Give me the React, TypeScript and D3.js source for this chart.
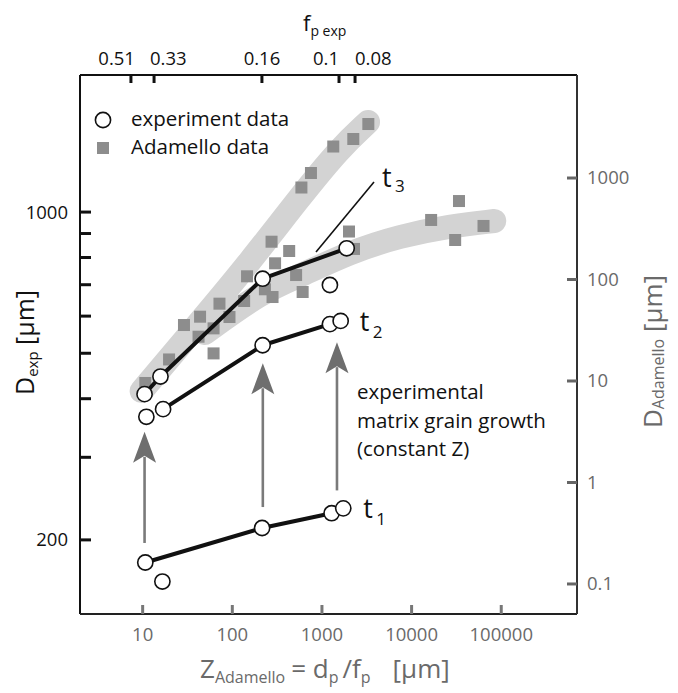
import React from 'react';
import * as d3 from 'd3';

const W = 678;
const H = 693;
const box = { left: 80, right: 577, top: 75, bottom: 614 };
const FONT = "'Open Sans', 'Noto Sans', sans-serif";

// Bottom axis: Z = d_p / f_p [µm]
const zTicks = [10, 100, 1000, 10000, 100000];
const zTickLabels = ['10', '100', '1000', '10000', '100000'];

// Left axis: D_exp [µm]
const dExpTicks = [200, 300, 400, 500, 600, 700, 800, 900, 1000];
const dExpLabeled = [200, 1000];

// Right axis: D_Adamello [µm]
const dAdaTicks = [0.1, 1, 10, 100, 1000];
const dAdaTickLabels = ['0.1', '1', '10', '100', '1000'];

// Top axis: particle fraction of the experiments, placed at their Z
const fpLabels = ['0.51', '0.33', '0.16', '0.1', '0.08'];
const fpAtZ = [7.4, 13.4, 214, 1550, 2340];
const fpAnchor = ['end', 'start', 'middle', 'end', 'start'];
const fpShift = [4, -4, 0, 0, 0];

// Experiment data (D_exp, µm) at three annealing times
const t1Z = [10.7, 16.6, 215, 1282, 1729];
const t1D = [179, 163, 212, 228, 233.5];
const t1Joined = [0, 2, 3, 4];

const t2Z = [11.0, 16.9, 218, 1227, 1617];
const t2D = [366, 380, 520, 577, 586];
const t2Joined = [1, 2, 3, 4];

const t3Z = [10.5, 15.8, 218, 1227, 1888];
const t3D = [409, 446, 721, 699, 837];
const t3Joined = [0, 1, 2, 4];

// Adamello natural samples (D_Adamello, µm)
const adaZ = [10.7, 19.7, 28.9, 43.7, 42.0, 61.8, 61.8, 71.9, 93.0, 135.5, 146, 231, 274, 300, 281, 431, 515, 609, 590, 754, 1337, 2237, 3292, 2003, 2278, 16520, 33780, 63420, 30620];
const adaD = [9.56, 16.3, 35.6, 43.0, 27.3, 33.0, 18.7, 57.8, 42.7, 61.4, 107.5, 80.1, 235.7, 144.4, 67.2, 190.9, 110.7, 75.3, 806, 1120, 2043, 2423, 3404, 297, 200, 386, 593, 337, 245];

// Trend bands through the Adamello data
const band1Z = [9.74, 43.4, 157, 568, 1589, 3266];
const band1D = [7.97, 38.1, 148.8, 650, 1975, 3561];
const band2Z = [49.3, 219, 568, 2055, 7437, 26930, 83540];
const band2D = [29.7, 77.0, 108.3, 186.6, 268.3, 336.6, 377];

// Growth arrows between t1 and t2 (D_exp)
const arrowZ = [10.5, 219, 1471];
const arrowFrom = [197, 235, 255];
const arrowTo = [340, 476, 528];

const x = d3.scaleLog().domain([2, 7e5]).range([box.left, box.right]);
const yL = d3.scaleLog().domain([139, 1960]).range([box.bottom, box.top]);
const yR = d3.scaleLog().domain([0.0506, 10350]).range([box.bottom, box.top]);

const bandLine = d3
  .line<[number, number]>()
  .x((d) => x(d[0]))
  .y((d) => yR(d[1]))
  .curve(d3.curveBasis);

const expLine = d3
  .line<[number, number]>()
  .x((d) => x(d[0]))
  .y((d) => yL(d[1]));

const series = [
  { z: t1Z, d: t1D, joined: t1Joined },
  { z: t2Z, d: t2D, joined: t2Joined },
  { z: t3Z, d: t3D, joined: t3Joined },
];

const GREY_TEXT = '#6a6a6a';

function Arrow({ z, from, to }: { z: number; from: number; to: number }) {
  const cx = x(z);
  const tip = yL(to);
  const base = yL(from);
  const head = `M${cx},${tip} L${cx + 11.5},${tip + 31} L${cx},${tip + 24} L${cx - 11.5},${tip + 31} Z`;
  return (
    <g>
      <line x1={cx} x2={cx} y1={base} y2={tip + 25} stroke="#7a7a7a" strokeWidth={2.6} />
      <path d={head} fill="#6e6e6e" />
    </g>
  );
}

export default function App() {
  const band1 = band1Z.map((z, i) => [z, band1D[i]] as [number, number]);
  const band2 = band2Z.map((z, i) => [z, band2D[i]] as [number, number]);

  return (
    <svg
      width={W}
      height={H}
      viewBox={`0 0 ${W} ${H}`}
      style={{ position: 'absolute', left: 0, top: 0, background: '#fff' }}
      fontFamily={FONT}
    >
      <rect width={W} height={H} fill="#fff" />

      {/* trend bands */}
      <path d={bandLine(band1) || ''} fill="none" stroke="#d3d3d3" strokeWidth={24} strokeLinecap="round" strokeLinejoin="round" />
      <path d={bandLine(band2) || ''} fill="none" stroke="#d3d3d3" strokeWidth={24} strokeLinecap="round" strokeLinejoin="round" />

      {/* Adamello squares */}
      {adaZ.map((z, i) => (
        <rect key={`a${i}`} x={x(z) - 6} y={yR(adaD[i]) - 6} width={12} height={12} fill="#8d8d8d" />
      ))}

      {/* growth arrows */}
      {arrowZ.map((z, i) => (
        <Arrow key={`ar${i}`} z={z} from={arrowFrom[i]} to={arrowTo[i]} />
      ))}

      {/* t3 leader */}
      <line x1={316} y1={252} x2={374} y2={182} stroke="#111" strokeWidth={1.6} />

      {/* experiment lines */}
      {series.map((s, k) => (
        <path
          key={`l${k}`}
          d={expLine(s.joined.map((i) => [s.z[i], s.d[i]] as [number, number])) || ''}
          fill="none"
          stroke="#111"
          strokeWidth={4}
          strokeLinejoin="round"
        />
      ))}
      {/* experiment circles */}
      {series.map((s, k) =>
        s.z.map((z, i) => (
          <circle key={`c${k}-${i}`} cx={x(z)} cy={yL(s.d[i])} r={7.6} fill="#fff" stroke="#111" strokeWidth={1.6} />
        ))
      )}

      {/* time labels */}
      <text x={382} y={187} fontSize={27} fill="#111">t</text>
      <text x={395} y={192} fontSize={17} fill="#111">3</text>
      <text x={x(t2Z[4]) + 19} y={yL(t2D[4]) + 10} fontSize={27} fill="#111">t</text>
      <text x={x(t2Z[4]) + 32} y={yL(t2D[4]) + 17} fontSize={17} fill="#111">2</text>
      <text x={x(t1Z[4]) + 20} y={yL(t1D[4]) + 10} fontSize={27} fill="#111">t</text>
      <text x={x(t1Z[4]) + 33} y={yL(t1D[4]) + 17} fontSize={17} fill="#111">1</text>

      {/* annotation */}
      <g fontSize={20.5} fill="#111">
        <text x={357} y={399}>experimental</text>
        <text x={357} y={428}>matrix grain growth</text>
        <text x={357} y={456}>(constant Z)</text>
      </g>

      {/* legend */}
      <circle cx={103} cy={120} r={7.6} fill="#fff" stroke="#111" strokeWidth={1.6} />
      <rect x={97} y={142} width={12} height={12} fill="#8d8d8d" />
      <text x={131} y={126} fontSize={20.5} fill="#111">experiment data</text>
      <text x={131} y={154} fontSize={20.5} fill="#111">Adamello data</text>

      {/* frame */}
      <line x1={box.left} x2={box.right} y1={box.top} y2={box.top} stroke="#111" strokeWidth={2} />
      <line x1={box.left} x2={box.left} y1={box.top} y2={box.bottom} stroke="#111" strokeWidth={2} />
      <line x1={box.left} x2={box.right} y1={box.bottom} y2={box.bottom} stroke="#222" strokeWidth={2} />
      <line x1={box.right} x2={box.right} y1={box.top} y2={box.bottom} stroke="#333" strokeWidth={2} />

      {/* bottom axis */}
      {zTicks.map((t, i) => (
        <g key={`zb${i}`}>
          <line x1={x(t)} x2={x(t)} y1={box.bottom} y2={box.bottom - 9} stroke="#777" strokeWidth={3} />
          <text x={x(t)} y={641} textAnchor="middle" fontSize={18.5} fill={GREY_TEXT}>
            {zTickLabels[i]}
          </text>
        </g>
      ))}
      <text x={200} y={678} fontSize={26} fill={GREY_TEXT}>
        Z
        <tspan fontSize={16} dy={5}>Adamello</tspan>
        <tspan dx={6} dy={-5}>= d</tspan>
        <tspan fontSize={16} dy={5}>p</tspan>
        <tspan dx={4} dy={-5}>/f</tspan>
        <tspan fontSize={16} dy={5}>p</tspan>
        <tspan dx={22} dy={-5}>[µm]</tspan>
      </text>

      {/* top axis */}
      {fpAtZ.map((z, i) => (
        <g key={`ft${i}`}>
          <line x1={x(z)} x2={x(z)} y1={box.top} y2={box.top + 8} stroke="#111" strokeWidth={3} />
          <text
            x={x(z) + fpShift[i]}
            y={65}
            textAnchor={fpAnchor[i] as any}
            fontSize={18.5}
            fill="#111"
          >
            {fpLabels[i]}
          </text>
        </g>
      ))}
      <text x={303} y={31} fontSize={22} fill="#111">
        f<tspan fontSize={14} dy={5}>p exp</tspan>
      </text>

      {/* left axis */}
      {dExpTicks.map((t, i) => (
        <line key={`dl${i}`} x1={box.left} x2={box.left + 11} y1={yL(t)} y2={yL(t)} stroke="#111" strokeWidth={3} />
      ))}
      {dExpLabeled.map((t, i) => (
        <text key={`dll${i}`} x={68} y={yL(t)} dy="0.35em" textAnchor="end" fontSize={18.5} fill="#111">
          {t}
        </text>
      ))}
      <text transform="translate(34,395) rotate(-90)" fontSize={25} fill="#111">
        D<tspan fontSize={15} dy={4}>exp</tspan>
        <tspan dy={-4}> [µm]</tspan>
      </text>

      {/* right axis */}
      {dAdaTicks.map((t, i) => (
        <g key={`dr${i}`}>
          <line x1={box.right} x2={box.right - 10} y1={yR(t)} y2={yR(t)} stroke="#666" strokeWidth={3} />
          <text x={587} y={yR(t)} dy="0.35em" fontSize={18.5} fill={GREY_TEXT}>
            {dAdaTickLabels[i]}
          </text>
        </g>
      ))}
      <text transform="translate(662,428) rotate(-90)" fontSize={26} fill={GREY_TEXT}>
        D<tspan fontSize={16} dy={2}>Adamello</tspan>
        <tspan dy={-2}> [µm]</tspan>
      </text>
    </svg>
  );
}
